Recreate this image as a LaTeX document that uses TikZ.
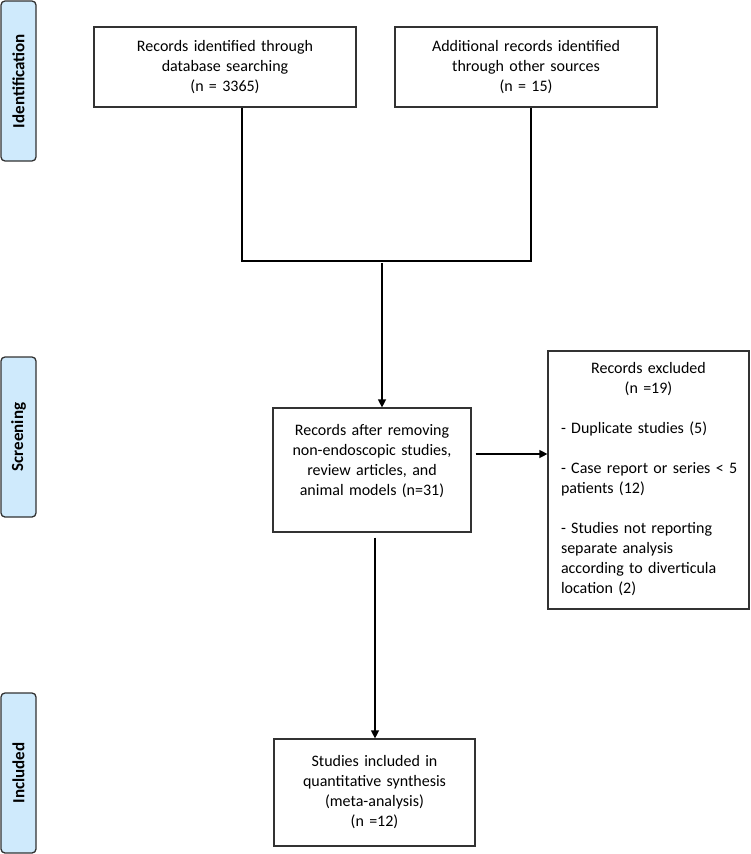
\documentclass[tikz,border=0pt]{standalone}
\usepackage{fontspec}
\setmainfont{Carlito}
\usetikzlibrary{arrows.meta}
\definecolor{phaseblue}{RGB}{207,234,252}
\definecolor{edge}{RGB}{50,50,50}
\tikzstyle{box}=[draw=edge, line width=1.2pt, inner ysep=0pt, inner xsep=11pt, align=center, font=\fontsize{16}{20}\selectfont]
\tikzstyle{phase}=[draw=edge, fill=phaseblue, line width=1.3pt, rounded corners=4pt, minimum width=160pt, minimum height=35pt, rotate=90, font=\fontsize{17}{20}\selectfont\bfseries]
\tikzstyle{link}=[line width=1.3pt, black]
\tikzstyle{arr}=[link, -{Triangle[length=8pt,width=8pt]}]
\newcommand{\flowbox}{\node[box]}

\begin{document}
\begin{tikzpicture}[x=1pt, y=-1pt]
\useasboundingbox (0,0) rectangle (750,854);
%phases
\node[phase] (identphase) at (18.5,81){Identification};
\node[phase] (screenphase) at (18.5,437){Screening};
\node[phase] (inclphase) at (18.5,773){Included};
%boxes
\flowbox[text width=240pt, minimum height=80pt] (db) at (225,67){Records identified through\\database searching\\(n = 3365)};
\flowbox[text width=240pt, minimum height=80pt] (other) at (526,67){Additional records identified\\through other sources\\(n = 15)};
\flowbox[text width=176pt, minimum height=124pt] (screened) at (372,470){Records after removing\\non-endoscopic studies,\\review articles, and\\animal models (n=31)\\\mbox{}};
\flowbox[text width=175pt, inner xsep=13pt, minimum height=258pt, align=left] (excl) at (648.5,480){%
{\centering\mbox{}\\[-10pt]Records excluded\\(n =19)\par}\vspace{20pt}
- Duplicate studies (5)\par\vspace{20pt}
\mbox{- Case report or series < 5}\\patients (12)\par\vspace{20pt}
- Studies not reporting\\separate analysis\\according to diverticula\\location (2)};
\flowbox[text width=179pt, minimum height=107pt] (included) at (374.5,792.5){Studies included in\\quantitative synthesis\\(meta-analysis)\\(n =12)};
%edges
\coordinate (dbdown) at (242,261);
\coordinate (otherdown) at (531,261);
\coordinate (join) at (382,263);
\coordinate (exclfrom) at ([shift={(4pt,16pt)}]screened.east);
\draw[link] (db.south -| dbdown) -- (dbdown) -- (otherdown) -- (other.south -| otherdown);
\draw[arr] (join) -- (join |- screened.north);
\draw[arr] (exclfrom) -- (excl.west |- exclfrom);
\draw[arr] ([shift={(3pt,-5pt)}]screened.south) -- ([xshift=3pt]screened.south |- included.north);
\end{tikzpicture}
\end{document}
